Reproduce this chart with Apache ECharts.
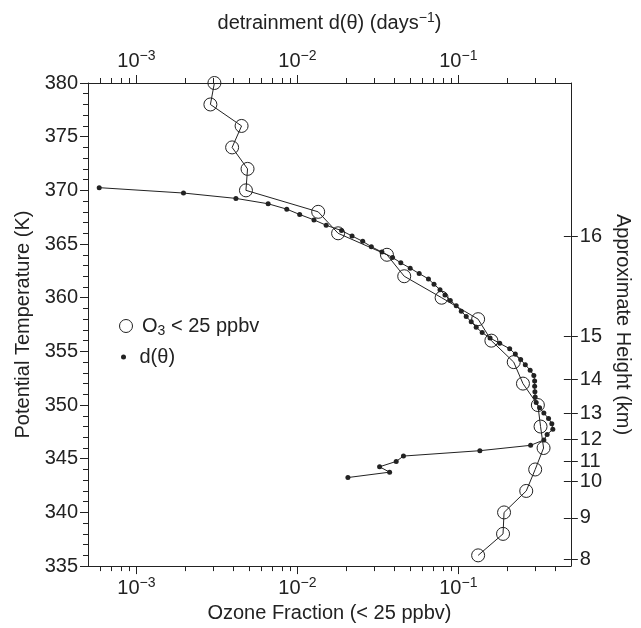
<!DOCTYPE html>
<html lang="en">
<head>
    <meta charset="utf-8"/>
    <script src="https://cdn.jsdelivr.net/npm/echarts@6/dist/echarts.min.js"></script>
</head>
<body style="margin: 0">
<div id="container" style="width: 641px;height:628px;"></div>
<script type="text/javascript">
    // O3 < 25 ppbv fraction, one point every 2 K
    var thetaO3 = [380, 378, 376, 374, 372, 370, 368, 366, 364, 362, 360, 358,
        356, 354, 352, 350, 348, 346, 344, 342, 340, 338, 336];
    var o3Frac = [0.00305, 0.00288, 0.0045, 0.00393, 0.0049, 0.00479, 0.01346, 0.0179,
        0.036, 0.0461, 0.0787, 0.1327, 0.1604, 0.2208, 0.252, 0.3119, 0.3241, 0.3384,
        0.3002, 0.2641, 0.1923, 0.1895, 0.1327];

    // detrainment d(theta), one point every 0.5 K
    var thetaD = [370.25, 369.75, 369.25, 368.75, 368.25, 367.75, 367.25, 366.75, 366.25,
        365.75, 365.25, 364.75, 364.25, 363.75, 363.25, 362.75, 362.25, 361.75, 361.25,
        360.75, 360.25, 359.75, 359.25, 358.75, 358.25, 357.75, 357.25, 356.75, 356.25,
        355.75, 355.25, 354.75, 354.25, 353.75, 353.25, 352.75, 352.25, 351.75, 351.25,
        350.75, 350.25, 349.75, 349.25, 348.75, 348.25, 347.75, 347.25, 346.75, 346.25,
        345.75, 345.25, 344.75, 344.25, 343.75, 343.25];
    var dValues = [0.000587, 0.00196, 0.00415, 0.00658, 0.00859, 0.01033, 0.01267, 0.01509,
        0.0188, 0.02185, 0.02545, 0.0288, 0.0335, 0.039, 0.0439, 0.0502, 0.0571, 0.0652,
        0.0706, 0.0769, 0.0826, 0.0891, 0.097, 0.1043, 0.1119, 0.1202, 0.1291, 0.1406,
        0.1574, 0.1807, 0.2084, 0.2259, 0.2438, 0.2606, 0.2793, 0.2944, 0.2979, 0.2979,
        0.2989, 0.3002, 0.3045, 0.3196, 0.3398, 0.3634, 0.3808, 0.3863, 0.3561, 0.3398,
        0.2812, 0.136, 0.0456, 0.0411, 0.0324, 0.0374, 0.0206];

    // right axis: approximate height (km) and the theta where each tick sits
    var heightKm = [8, 9, 10, 11, 12, 13, 14, 15, 16];
    var heightTheta = [335.6, 339.5, 342.9, 344.75, 346.8, 349.2, 352.4, 356.4, 365.7];

    var xMin = 5e-4, xMax = 0.5;

    // minor log ticks (2..9 x 10^n), in log10 units for the helper axis
    var minorTicks = [];
    for (var e = -4; e <= -1; e++) {
        for (var m = 2; m <= 9; m++) {
            var v = m * Math.pow(10, e);
            if (v > xMin && v < xMax) minorTicks.push(Math.log10(v));
        }
    }

    var font = 'Liberation Sans';
    var ink = '#222';
    var rich = {
        b: {fontSize: 20, fontFamily: font, color: ink, lineHeight: 24},
        s: {fontSize: 14, fontFamily: font, color: ink, lineHeight: 14, verticalAlign: 'top'}
    };

    function decadeLabel(v) {
        var e = Math.log10(v);
        if (Math.abs(e - Math.round(e)) > 1e-6) return '';
        return '{b|10}{s|\u2212' + Math.abs(Math.round(e)) + '}';
    }

    function logAxis(pos) {
        return {
            type: 'log', logBase: 10, min: xMin, max: xMax, position: pos,
            axisLine: {lineStyle: {color: ink, width: 1}},
            axisTick: {length: 8, lineStyle: {color: ink}},
            axisLabel: {formatter: decadeLabel, rich: rich, margin: 10,
                showMinLabel: false, showMaxLabel: false},
            splitLine: {show: false}
        };
    }

    // helper axis that only draws the small ticks between decades
    function minorAxis(pos) {
        return {
            type: 'value', min: Math.log10(xMin), max: Math.log10(xMax), position: pos,
            axisLine: {show: false, onZero: false},
            axisTick: {show: true, length: 5, lineStyle: {color: ink}, customValues: minorTicks},
            axisLabel: {show: false},
            splitLine: {show: false}
        };
    }

    var bottomAxis = logAxis('bottom');
    bottomAxis.name = 'Ozone Fraction (< 25 ppbv)';
    bottomAxis.nameLocation = 'middle';
    bottomAxis.nameGap = 33;
    bottomAxis.nameTextStyle = {fontSize: 20, fontFamily: font, color: ink};

    var topAxis = logAxis('top');
    topAxis.name = '{b|detrainment d(\u03b8) (days}{s|\u22121}{b|)}';
    topAxis.nameLocation = 'middle';
    topAxis.nameGap = 48;
    topAxis.nameTextStyle = {rich: rich};

    var myChart = echarts.init(document.getElementById('container'));

    var option = {
        animation: false,
        backgroundColor: '#fff',
        grid: {left: 88, right: 68, top: 83, bottom: 61},
        legend: [{
            left: 114, top: 311, orient: 'vertical',
            itemWidth: 22, itemHeight: 13,
            data: [{name: 'O3 < 25 ppbv', icon: 'circle',
                itemStyle: {color: 'rgba(0,0,0,0)', borderColor: ink, borderWidth: 1}}],
            formatter: function () { return '{b|O}{u|3}{b| < 25 ppbv}'; },
            textStyle: {rich: {
                b: {fontSize: 20, fontFamily: font, color: ink, lineHeight: 24},
                u: {fontSize: 14, fontFamily: font, color: ink, lineHeight: 14, verticalAlign: 'bottom'}
            }}
        }, {
            left: 116, top: 342, orient: 'vertical',
            itemWidth: 22, itemHeight: 5,
            data: [{name: 'd(\u03b8)', icon: 'circle', itemStyle: {color: ink}}],
            textStyle: {fontSize: 20, fontFamily: font, color: ink}
        }],
        xAxis: [bottomAxis, topAxis, minorAxis('bottom'), minorAxis('top')],
        yAxis: [{
            type: 'value', min: 335, max: 380, interval: 5, position: 'left',
            name: 'Potential Temperature (K)', nameLocation: 'middle', nameGap: 52,
            nameTextStyle: {fontSize: 20, fontFamily: font, color: ink},
            axisLine: {show: true, lineStyle: {color: ink}},
            axisTick: {show: true, length: 8, lineStyle: {color: ink}},
            minorTick: {show: true, splitNumber: 5, length: 5, lineStyle: {color: ink}},
            axisLabel: {fontSize: 20, fontFamily: font, color: ink, margin: 10},
            splitLine: {show: false}
        }, {
            type: 'value', min: 335, max: 380, position: 'right',
            name: 'Approximate Height (km)', nameLocation: 'middle', nameGap: 34, nameRotate: -90,
            nameTextStyle: {fontSize: 20, fontFamily: font, color: ink},
            axisLine: {show: true, lineStyle: {color: ink}},
            axisTick: {show: true, length: 7, lineStyle: {color: ink}, customValues: heightTheta},
            axisLabel: {fontSize: 20, fontFamily: font, color: ink, margin: 9,
                customValues: heightTheta,
                formatter: function (v) {
                    var best = 0;
                    for (var i = 1; i < heightTheta.length; i++) {
                        if (Math.abs(heightTheta[i] - v) < Math.abs(heightTheta[best] - v)) best = i;
                    }
                    return String(heightKm[best]);
                }},
            splitLine: {show: false}
        }, {
            type: 'value', min: 335, max: 380, position: 'right',
            axisLine: {show: false},
            axisTick: {show: true, inside: true, length: 7, lineStyle: {color: ink}, customValues: heightTheta},
            axisLabel: {show: false},
            splitLine: {show: false}
        }],
        series: [{
            name: 'O3 < 25 ppbv', type: 'line', xAxisIndex: 0, yAxisIndex: 0,
            data: o3Frac.map(function (v, i) { return [v, thetaO3[i]]; }),
            symbol: 'circle', symbolSize: 13, showAllSymbol: true,
            lineStyle: {color: ink, width: 1},
            itemStyle: {color: 'rgba(0,0,0,0)', borderColor: ink, borderWidth: 1}
        }, {
            name: 'd(\u03b8)', type: 'line', xAxisIndex: 1, yAxisIndex: 0,
            data: dValues.map(function (v, i) { return [v, thetaD[i]]; }),
            symbol: 'circle', symbolSize: 5, showAllSymbol: true,
            lineStyle: {color: ink, width: 1},
            itemStyle: {color: ink}
        }]
    };

    myChart.setOption(option);
</script>
</body>
</html>
